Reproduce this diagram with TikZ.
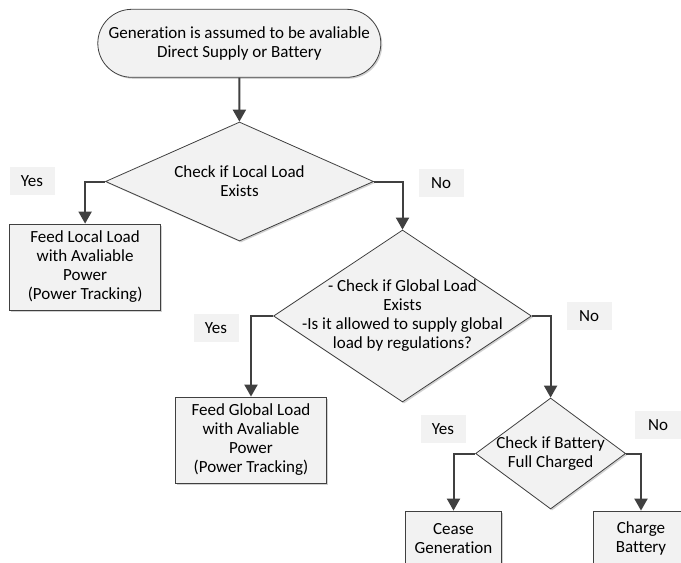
\documentclass[tikz,border=0pt]{standalone}
\usepackage{fontspec}
\setmainfont{Carlito}[RawFeature={-liga}]
\usetikzlibrary{arrows.meta,shapes.geometric,shadows}

\definecolor{boxfill}{HTML}{F2F2F2}
\definecolor{lineclr}{HTML}{404040}

\tikzset{
  soft/.style={drop shadow={shadow xshift=1.5pt,shadow yshift=-1.5pt,opacity=.18,fill=black}},
  terminal/.style={draw=lineclr, fill=boxfill, line width=.8pt, rounded corners=34pt,
    minimum width=283pt, minimum height=68pt, soft},
  process/.style={draw=lineclr, fill=boxfill, line width=.8pt,
    minimum width=151pt, minimum height=86pt, soft},
  decision/.style={diamond, draw=lineclr, fill=boxfill, line width=.8pt, inner sep=0pt, soft},
  answer/.style={fill=boxfill, minimum width=45pt, minimum height=28pt, inner sep=0pt},
  flow/.style={-{Triangle[width=13pt,length=12pt]}, draw=lineclr, line width=2pt},
  txt/.style={align=center}
}

\begin{document}
\begin{tikzpicture}[x=1pt, y=-1pt, every node/.style={font=\fontsize{17}{19}\selectfont}]
        \useasboundingbox (0,0) rectangle (681,563);
        \clip (0,0) rectangle (681,563);

        % start
        \node[terminal, txt] (start) at (239.3,43.3) {Generation is assumed to be avaliable\\Direct Supply or Battery};

        % first check
        \node[decision, minimum width=268pt, minimum height=119pt] (chklocal) at (239.5,181.5) {};
        \node[txt] (chklocaltxt) at (chklocal) {Check if Local Load\\Exists};
        \node[answer] (yes1) at (32,181) {Yes};
        \node[answer] (no1) at (441,183) {No};
        \node[process, txt] (feedlocal) at (85.1,267) {Feed Local Load\\with Avaliable\\Power\\(Power Tracking)};

        % second check
        \node[decision, minimum width=258pt, minimum height=172pt] (chkglobal) at (402.5,316) {};
        \node[txt] (chkglobaltxt) at (chkglobal) {- Check if Global Load\\Exists\\-Is it allowed to supply global\\load by regulations?};
        \node[answer] (yes2) at (216,328) {Yes};
        \node[answer] (no2) at (589,316) {No};
        \node[process, txt] (feedglobal) at (251,440) {Feed Global Load\\with Avaliable\\Power\\(Power Tracking)};

        % third check
        \node[decision, minimum width=150pt, minimum height=111pt] (chkbatt) at (550.6,453.5) {};
        \node[txt] (chkbatttxt) at (chkbatt) {Check if Battery\\Full Charged};
        \node[answer] (yes3) at (443,429) {Yes};
        \node[answer, minimum width=46pt] (no3) at (658,425) {No};
        \node[process, txt, minimum width=96pt, minimum height=55pt] (cease) at (453.5,538.5) {Cease\\Generation};
        \node[process, txt, minimum width=96pt, minimum height=55pt] (charge) at (641,538.5) {Charge\\Battery};

        % arrows
        \draw[flow] (start) -- (chklocal);
        \draw[flow] (chklocal.west) -| (feedlocal.north);
        \draw[flow] (chklocal.east) -| (chkglobal.north);
        \draw[flow] (chkglobal.west) -| (feedglobal.north);
        \draw[flow] (chkglobal.east) -| (chkbatt.north);
        \draw[flow] (chkbatt.west) -| (cease.north);
        \draw[flow] (chkbatt.east) -| (charge.north);

    \end{tikzpicture}
\end{document}
